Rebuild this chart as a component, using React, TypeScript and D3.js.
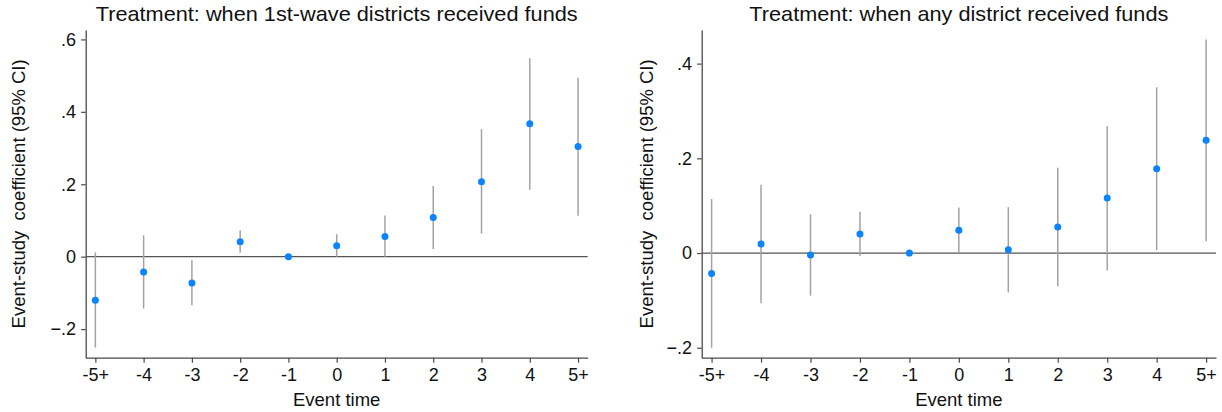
import { useEffect, useRef } from 'react'
import * as d3 from 'd3'

const EVENT_TIMES=['-5+','-4','-3','-2','-1','0','1','2','3','4','5+']
const TITLES=['Treatment: when 1st-wave districts received funds','Treatment: when any district received funds']
const Y_TICKS_A=[-0.2,0,0.2,0.4,0.6]
const Y_TICKS_B=[-0.2,0,0.2,0.4]
// panel A: 1st-wave districts
const COEF_A=[-0.120,-0.042,-0.073,0.041,0,0.030,0.056,0.108,0.207,0.367,0.304]
const LO_A=[-0.251,-0.143,-0.134,0.011,0,0.000,0.000,0.021,0.064,0.185,0.113]
const HI_A=[0.012,0.059,-0.010,0.073,0,0.062,0.114,0.195,0.352,0.548,0.494]
// panel B: any district
const COEF_B=[-0.043,0.019,-0.004,0.040,0,0.048,0.007,0.055,0.116,0.178,0.238]
const LO_B=[-0.200,-0.106,-0.090,-0.006,0,0.001,-0.083,-0.070,-0.037,0.006,0.025]
const HI_B=[0.114,0.144,0.082,0.087,0,0.096,0.097,0.180,0.268,0.350,0.451]
const Y_DOMAIN_A=[-0.279,0.626], Y_DOMAIN_B=[-0.221,0.471]

const W=1222, H=412
const FONT='"Liberation Sans", Arial, sans-serif'
const AXIS='#4a4a4a', CI='#a3a3a3', DOT='#0a84ff'

const PANELS=[
  {title:TITLES[0],coef:COEF_A,lo:LO_A,hi:HI_A,ticks:Y_TICKS_A,dom:Y_DOMAIN_A,x0:85.7,x1:587.7,labX:25,titleLen:482},
  {title:TITLES[1],coef:COEF_B,lo:LO_B,hi:HI_B,ticks:Y_TICKS_B,dom:Y_DOMAIN_B,x0:701.7,x1:1216,labX:652.7,titleLen:419},
]

const fmt=(d:number)=>d===0?'0':d3.format('.1f')(d).replace('0.','.')

export default function App() {
  const ref=useRef<SVGSVGElement>(null)
  useEffect(() => {
    if(!ref.current) return
    const svg=d3.select(ref.current)
    svg.selectAll('*').remove()
    const top=30, bot=357.7
    PANELS.forEach(p=>{
      const x=d3.scalePoint().domain(EVENT_TIMES).range([p.x0,p.x1]).padding(0.2)
      const y=d3.scaleLinear().domain(p.dom).range([bot,top])
      const g=svg.append('g')
      const ya=g.append('g').attr('transform',`translate(${p.x0},0)`)
        .call(d3.axisLeft(y).tickValues(p.ticks).tickFormat(fmt as any).tickSize(4.6).tickSizeOuter(0).tickPadding(5))
      const xa=g.append('g').attr('transform',`translate(0,${bot})`)
        .call(d3.axisBottom(x).tickSize(5).tickSizeOuter(0).tickPadding(5.5))
      ;[ya,xa].forEach(a=>{
        a.select('.domain').attr('stroke',AXIS).attr('stroke-width',1.3)
        a.selectAll('.tick line').attr('stroke',AXIS).attr('stroke-width',1.2)
        a.selectAll('.tick text').attr('fill','#111').style('font-family',FONT).style('font-size','18px')
      })
      // zero reference line
      g.append('line').attr('x1',p.x0).attr('x2',p.x1).attr('y1',y(0)).attr('y2',y(0))
        .attr('stroke','#555').attr('stroke-width',1.3)
      const rows=EVENT_TIMES.map((t,i)=>({t,c:p.coef[i],lo:p.lo[i],hi:p.hi[i]}))
      g.selectAll('line.ci').data(rows.filter(d=>d.hi>d.lo)).join('line').attr('class','ci')
        .attr('x1',d=>x(d.t)!).attr('x2',d=>x(d.t)!).attr('y1',d=>y(d.lo)).attr('y2',d=>y(d.hi))
        .attr('stroke',CI).attr('stroke-width',1.5)
      g.selectAll('circle').data(rows).join('circle')
        .attr('cx',d=>x(d.t)!).attr('cy',d=>y(d.c)).attr('r',3.5).attr('fill',DOT)
      const mid=(p.x0+p.x1)/2
      g.append('text').attr('x',mid).attr('y',20.7).attr('text-anchor','middle')
        .attr('textLength',p.titleLen).attr('lengthAdjust','spacingAndGlyphs')
        .style('font-family',FONT).style('font-size','21px').attr('fill','#111').text(p.title)
      g.append('text').attr('x',mid).attr('y',405.7).attr('text-anchor','middle')
        .style('font-family',FONT).style('font-size','18.5px').attr('fill','#111').text('Event time')
      g.append('text').attr('transform',`translate(${p.labX},${(top+bot)/2}) rotate(-90)`).attr('text-anchor','middle')
        .attr('xml:space','preserve').style('white-space','pre')
        .style('font-family',FONT).style('font-size','18.5px').attr('fill','#111').text('Event-study  coefficient (95% CI)')
    })
  },[])
  return <svg ref={ref} width={W} height={H} style={{position:'absolute',left:0,top:0,background:'#fff'}} />
}
